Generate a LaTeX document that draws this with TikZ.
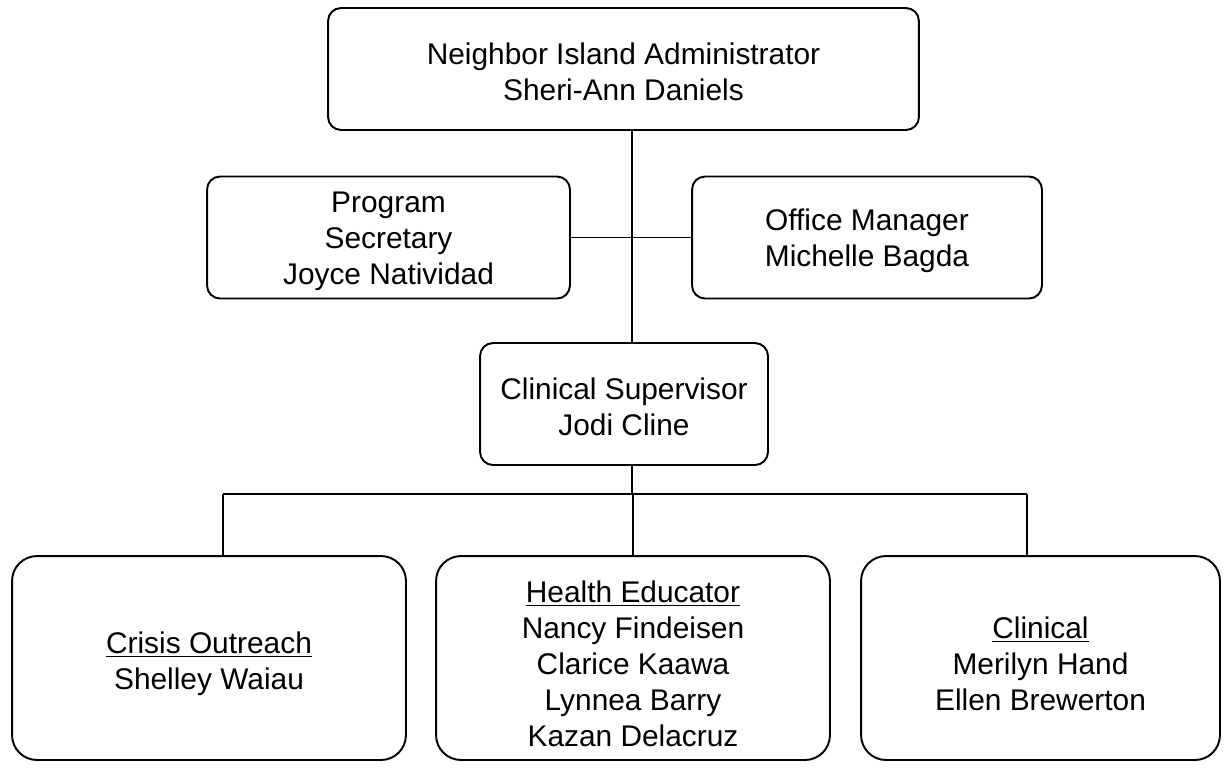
\documentclass[tikz,border=0pt]{standalone}
\usepackage{fontspec}
\setmainfont{Liberation Sans}
\usetikzlibrary{positioning}
\newcommand{\liftbox}{\rule{0pt}{16pt}}
\newcommand{\liftteam}{\rule{0pt}{19pt}}
\tikzset{
	x=0.02cm, y=-0.02cm,
	every node/.append style={align=center, font=\fontsize{17}{20.5}\selectfont},
	every path/.append style={line width=1.1pt},
	box/.style={draw,
		    rounded corners=0.26cm,
		    inner sep=0pt,
		    minimum height=2.44cm},
	team/.style={draw,
		     rounded corners=0.5cm,
		     inner sep=0pt,
		     minimum height=4.08cm}
}

\begin{document}
\begin{tikzpicture}
	\useasboundingbox (0,0) rectangle (1226,769);

	\node [box, minimum width=11.82cm] (admin) at (623.5,69) {\liftbox Neighbor Island Administrator\\Sheri-Ann Daniels};
	\node [box, minimum width=7.26cm] (secretary) at (388.5,237.5) {\liftbox Program\\Secretary\\Joyce Natividad};
	\node [box, minimum width=7.0cm] (office) at (867,237.5) {\liftbox Office Manager\\Michelle Bagda};
	\node [box, minimum width=5.76cm] (supervisor) at (624,404) {\liftbox Clinical Supervisor\\Jodi Cline};

	\node [team, minimum width=7.88cm] (crisis) at (209,658) {\liftteam\underline{Crisis Outreach}\\Shelley Waiau};
	\node [team, minimum width=7.88cm] (health) at (633,658) {\liftteam\underline{Health Educator}\\Nancy Findeisen\\Clarice Kaawa\\Lynnea Barry\\Kazan Delacruz};
	\node [team, minimum width=7.18cm] (clinical) at (1040.5,658) {\liftteam\underline{Clinical}\\Merilyn Hand\\Ellen Brewerton};

	\coordinate (spine) at (632,0);
	\coordinate (busleft) at (223,494);
	\coordinate (busright) at (1027,494);

	\draw (admin.south -| spine) -- (supervisor.north -| spine);
	\draw (secretary) -- (office);
	\draw (supervisor.south -| spine) -- (busleft -| spine);
	\draw (busleft) -- (busright);
	\draw (busleft) -- (busleft |- crisis.north);
	\draw (health.north) -- (health.north |- busleft);
	\draw (busright) -- (busright |- clinical.north);

\end{tikzpicture}
\end{document}
